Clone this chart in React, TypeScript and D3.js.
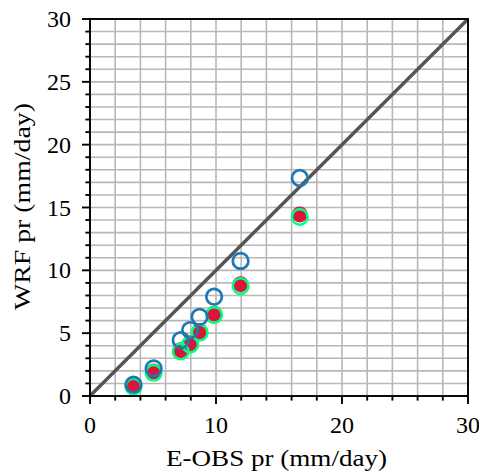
import React from "react";
import * as d3 from "d3";

const obsX = [3.45, 5.05, 7.2, 7.95, 8.7, 9.85, 11.95, 16.65];
const wrfBlue = [0.9, 2.2, 4.45, 5.25, 6.3, 7.9, 10.75, 17.35];
const wrfRed = [0.82, 1.95, 3.65, 4.2, 5.15, 6.55, 8.9, 14.45];
const wrfGreen = [0.75, 1.85, 3.55, 4.1, 5.05, 6.45, 8.75, 14.25];
const xMajor = [0, 10, 20, 30];
const yMajor = [0, 5, 10, 15, 20, 25, 30];
const xMinor = d3.range(0, 31, 2);
const yMinor = d3.range(0, 31, 1);
const diag = [0, 30];

const W = 479, H = 472;
const L = 90, R = 468, T = 19, B = 396;
const FONT = "Liberation Serif, serif";

export default function App() {
  const x = d3.scaleLinear().domain([0, 30]).range([L, R]);
  const y = d3.scaleLinear().domain([0, 30]).range([B, T]);
  const line = d3.line<number>().x((d) => x(d)).y((d) => y(d));
  return (
    <svg width={W} height={H} style={{ position: "absolute", left: 0, top: 0 }}>
      <defs>
        <clipPath id="plot">
          <rect x={L} y={T} width={R - L} height={B - T} />
        </clipPath>
      </defs>
      <rect width={W} height={H} fill="#fff" />
      {xMinor.map((v) => (
        <line key={"gx" + v} x1={x(v)} x2={x(v)} y1={T} y2={B} stroke="#b8b8b8" strokeWidth={1.6} />
      ))}
      {yMinor.map((v) => (
        <line key={"gy" + v} y1={y(v)} y2={y(v)} x1={L} x2={R} stroke="#b8b8b8" strokeWidth={1.6} />
      ))}
      <path d={line(diag) || ""} stroke="#555555" strokeWidth={3.4} fill="none" clipPath="url(#plot)" />
      <g clipPath="url(#plot)">
        {obsX.map((v, i) => (
          <circle key={"r" + i} cx={x(v)} cy={y(wrfRed[i])} r={8} fill="#dc143c" />
        ))}
        {obsX.map((v, i) => (
          <circle key={"g" + i} cx={x(v)} cy={y(wrfGreen[i])} r={7.8} fill="none" stroke="#00ff7f" strokeWidth={2.6} />
        ))}
        {obsX.map((v, i) => (
          <circle key={"b" + i} cx={x(v)} cy={y(wrfBlue[i])} r={7.8} fill="none" stroke="#1f77b4" strokeWidth={2.7} />
        ))}
      </g>
      <rect x={L} y={T} width={R - L} height={B - T} fill="none" stroke="#000" strokeWidth={1.9} />
      {xMinor.map((v) => (
        <line key={"tx" + v} x1={x(v)} x2={x(v)} y1={B} y2={B + (xMajor.includes(v) ? 8 : 4.6)} stroke="#000" strokeWidth={1.9} />
      ))}
      {yMinor.map((v) => (
        <line key={"ty" + v} y1={y(v)} y2={y(v)} x1={L} x2={L - (yMajor.includes(v) ? 8 : 4.6)} stroke="#000" strokeWidth={1.9} />
      ))}
      {xMajor.map((v) => (
        <text key={"lx" + v} x={x(v)} y={433} textAnchor="middle" fontFamily={FONT} fontSize={24} fill="#000">
          {v}
        </text>
      ))}
      {yMajor.map((v) => (
        <text key={"ly" + v} x={71} y={y(v) + 8} textAnchor="end" fontFamily={FONT} fontSize={24} fill="#000">
          {v}
        </text>
      ))}
      <text x={276.5} y={466} textAnchor="middle" fontFamily={FONT} fontSize={24} fill="#000"
        textLength={221} lengthAdjust="spacingAndGlyphs">
        E-OBS pr (mm/day)
      </text>
      <text transform={`translate(30,206.5) rotate(-90)`} textAnchor="middle" fontFamily={FONT} fontSize={24} fill="#000"
        textLength={207} lengthAdjust="spacingAndGlyphs">
        WRF pr (mm/day)
      </text>
    </svg>
  );
}
